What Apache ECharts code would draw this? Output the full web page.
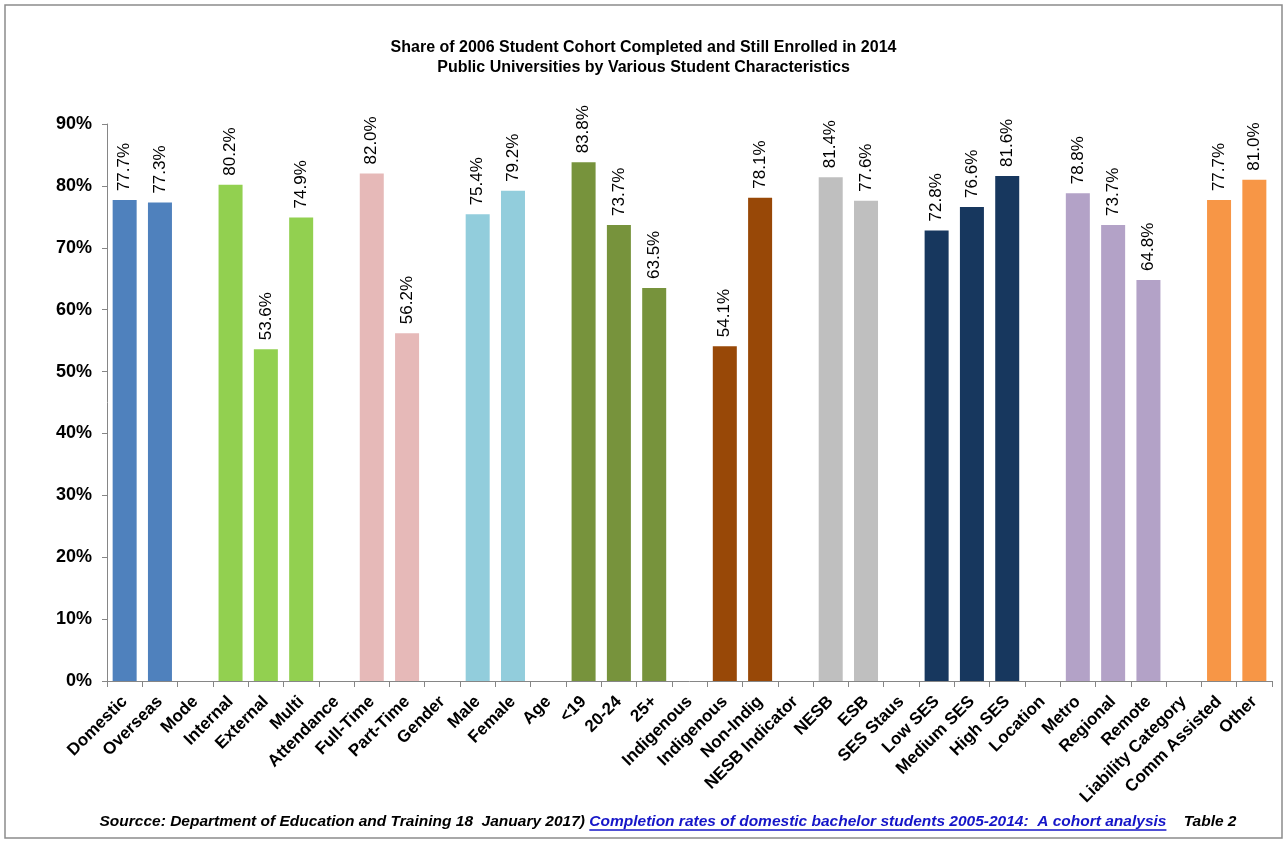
<!DOCTYPE html>
<html><head><meta charset="utf-8">
<script src="https://cdn.jsdelivr.net/npm/echarts@6/dist/echarts.min.js"></script>
<style>html,body{margin:0;padding:0;background:#fff}#c{width:1287px;height:843px}</style>
</head><body><div id="c"></div>
<script>
const categories = ['Domestic','Overseas','Mode','Internal','External','Multi','Attendance','Full-Time','Part-Time','Gender','Male','Female','Age','<19','20-24','25+','Indigenous','Indigenous','Non-Indig','NESB Indicator','NESB','ESB','SES Staus','Low SES','Medium SES','High SES','Location','Metro','Regional','Remote','Liability Category','Comm Assisted','Other'];
const values = [77.7,77.3,null,80.2,53.6,74.9,null,82.0,56.2,null,75.4,79.2,null,83.8,73.7,63.5,null,54.1,78.1,null,81.4,77.6,null,72.8,76.6,81.6,null,78.8,73.7,64.8,null,77.7,81.0];
const groupOf = [0,0,-1,1,1,1,-1,2,2,-1,3,3,-1,4,4,4,-1,5,5,-1,6,6,-1,7,7,7,-1,8,8,8,-1,9,9];
const groupColors = ['#4F81BD','#92D050','#E6B9B8','#92CDDC','#77933C','#984807','#BFBFBF','#17375E','#B3A2C7','#F79646'];
const yTicks = [0,10,20,30,40,50,60,70,80,90];
const footerA = 'Sourcce: Department of Education and Training 18  January 2017) ';
const footerLink = 'Completion rates of domestic bachelor students 2005-2014:  A cohort analysis';
const footerB = '    Table 2';

const font = "'Liberation Sans', Arial, sans-serif";
const footFont = 'italic bold 15.5px ' + font;
const ctx = document.createElement('canvas').getContext('2d');
ctx.font = footFont;
const wA = ctx.measureText(footerA).width, wL = ctx.measureText(footerLink).width, wB = ctx.measureText(footerB).width;
const footCenter = 668, footY = 822;
const footLeft = footCenter - (wA + wL + wB) / 2;

const chart = echarts.init(document.getElementById('c'));
chart.setOption({
  animation:false,
  backgroundColor:'#fff',
  title:{
    text:'Share of 2006 Student Cohort Completed and Still Enrolled in 2014\nPublic Universities by Various Student Characteristics',
    left:'center', top:33,
    textStyle:{fontFamily:font,fontSize:16,fontWeight:'bold',color:'#000',lineHeight:20}
  },
  grid:{left:107,right:15,top:124,bottom:162},
  xAxis:{
    type:'category', data:categories,
    axisLine:{lineStyle:{color:'#868686'}},
    axisTick:{show:true,alignWithLabel:false,lineStyle:{color:'#868686'},length:6},
    axisLabel:{interval:0,rotate:45,fontFamily:font,fontSize:17,fontWeight:'bold',color:'#000',margin:18}
  },
  yAxis:{
    type:'value', min:yTicks[0], max:yTicks[yTicks.length-1], interval:10,
    axisLine:{show:true,lineStyle:{color:'#868686'}},
    axisTick:{show:true,length:5,lineStyle:{color:'#868686'}},
    splitLine:{show:false},
    axisLabel:{formatter:v=>v+'%',fontFamily:font,fontSize:18,fontWeight:'bold',color:'#000',margin:15}
  },
  series:[{
    type:'bar', barWidth:'68%',
    data: values.map((v,i)=>({value:v,itemStyle:{color:groupOf[i]>=0?groupColors[groupOf[i]]:'#fff'}})),
    label:{show:true,position:'top',rotate:90,align:'left',verticalAlign:'middle',distance:9,
      formatter:p=>p.value==null?'':p.value.toFixed(1)+'%',
      fontFamily:font,fontSize:17,color:'#000'}
  }],
  graphic:[
    {type:'rect',shape:{x:5,y:5,width:1277,height:833},style:{fill:null,stroke:'#8c8c8c',lineWidth:1.5},silent:true},
    {type:'text',x:footLeft,y:footY,style:{
      text:'{a|'+footerA+'}{b|'+footerLink+'}{a|'+footerB+'}',
      align:'left',verticalAlign:'middle',
      rich:{
        a:{fontFamily:font,fontSize:15.5,fontStyle:'italic',fontWeight:'bold',fill:'#000'},
        b:{fontFamily:font,fontSize:15.5,fontStyle:'italic',fontWeight:'bold',fill:'#1515C8'}
      }}},
    {type:'line',shape:{x1:footLeft+wA,y1:footY+8,x2:footLeft+wA+wL,y2:footY+8},style:{stroke:'#1515C8',lineWidth:1.3}}
  ]
});
</script></body></html>
